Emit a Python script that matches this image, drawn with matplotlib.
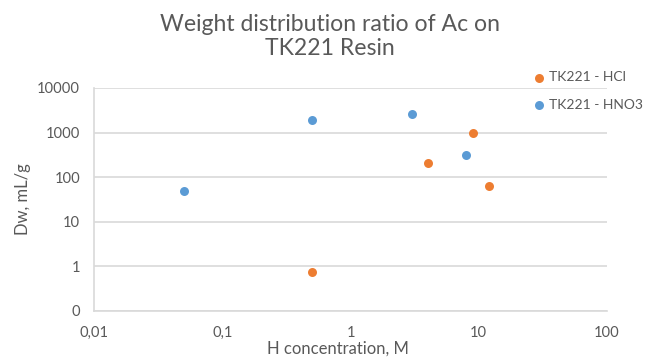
import matplotlib
matplotlib.use('Agg')
import matplotlib.pyplot as plt
from matplotlib.ticker import FixedLocator, FixedFormatter, NullLocator

plt.rcParams['font.family'] = ['Lato', 'DejaVu Sans']

# data
hcl_x = [0.5, 4, 9, 12]
hcl_y = [0.73, 212, 1000, 65]
hno3_x = [0.05, 0.5, 3, 8]
hno3_y = [50, 1900, 2670, 316]

x_ticks = [0.01, 0.1, 1, 10, 100]
x_labels = ['0,01', '0,1', '1', '10', '100']
y_ticks = [0.1, 1, 10, 100, 1000, 10000]
y_labels = ['0', '1', '10', '100', '1000', '10000']

grey = '#595959'
light = '#d9d9d9'
orange = '#ed7d31'
blue = '#5b9bd5'

fig = plt.figure(figsize=(6.62, 3.62), dpi=100)
ax = fig.add_axes([0.142, 0.141, 0.775, 0.616])

ax.scatter(hcl_x, hcl_y, s=42, color=orange, label='TK221 - HCl', zorder=3, lw=0)
ax.scatter(hno3_x, hno3_y, s=42, color=blue, label='TK221 - HNO3', zorder=3, lw=0)

ax.set_xscale('log')
ax.set_yscale('log')
ax.set_xlim(0.01, 100)
ax.set_ylim(0.1, 10000)
ax.xaxis.set_major_locator(FixedLocator(x_ticks))
ax.xaxis.set_major_formatter(FixedFormatter(x_labels))
ax.xaxis.set_minor_locator(NullLocator())
ax.yaxis.set_major_locator(FixedLocator(y_ticks))
ax.yaxis.set_major_formatter(FixedFormatter(y_labels))
ax.yaxis.set_minor_locator(NullLocator())

ax.grid(axis='y', color=light, lw=1.2)
ax.set_axisbelow(True)
for s in ['top', 'right']:
    ax.spines[s].set_visible(False)
ax.spines['bottom'].set_color(light)
ax.spines['left'].set_color(light)
ax.spines['bottom'].set_linewidth(1.2)
ax.spines['left'].set_linewidth(1.2)
ax.tick_params(length=0, colors=grey, labelsize=10.6)
ax.tick_params(axis='x', pad=11)
ax.tick_params(axis='y', pad=10)

ax.set_xlabel('H concentration, M', color=grey, fontsize=12, va='center')
ax.xaxis.set_label_coords(0.476, -0.17)
ax.set_ylabel('Dw, mL/g', color=grey, fontsize=12, va='center')
ax.yaxis.set_label_coords(-0.138, 0.5)

fig.text(0.498, 0.899, 'Weight distribution ratio of Ac on\nTK221 Resin', color=grey,
         fontsize=16.6, ha='center', va='center', linespacing=1.15)

ax.legend(loc='center left', bbox_to_anchor=(0.858, 0.986), frameon=False,
          fontsize=10, labelcolor=grey, handlelength=0.7, handletextpad=0.4,
          labelspacing=1.1, borderpad=0, borderaxespad=0, scatterpoints=1)

fig.savefig('out.png', dpi=100)
